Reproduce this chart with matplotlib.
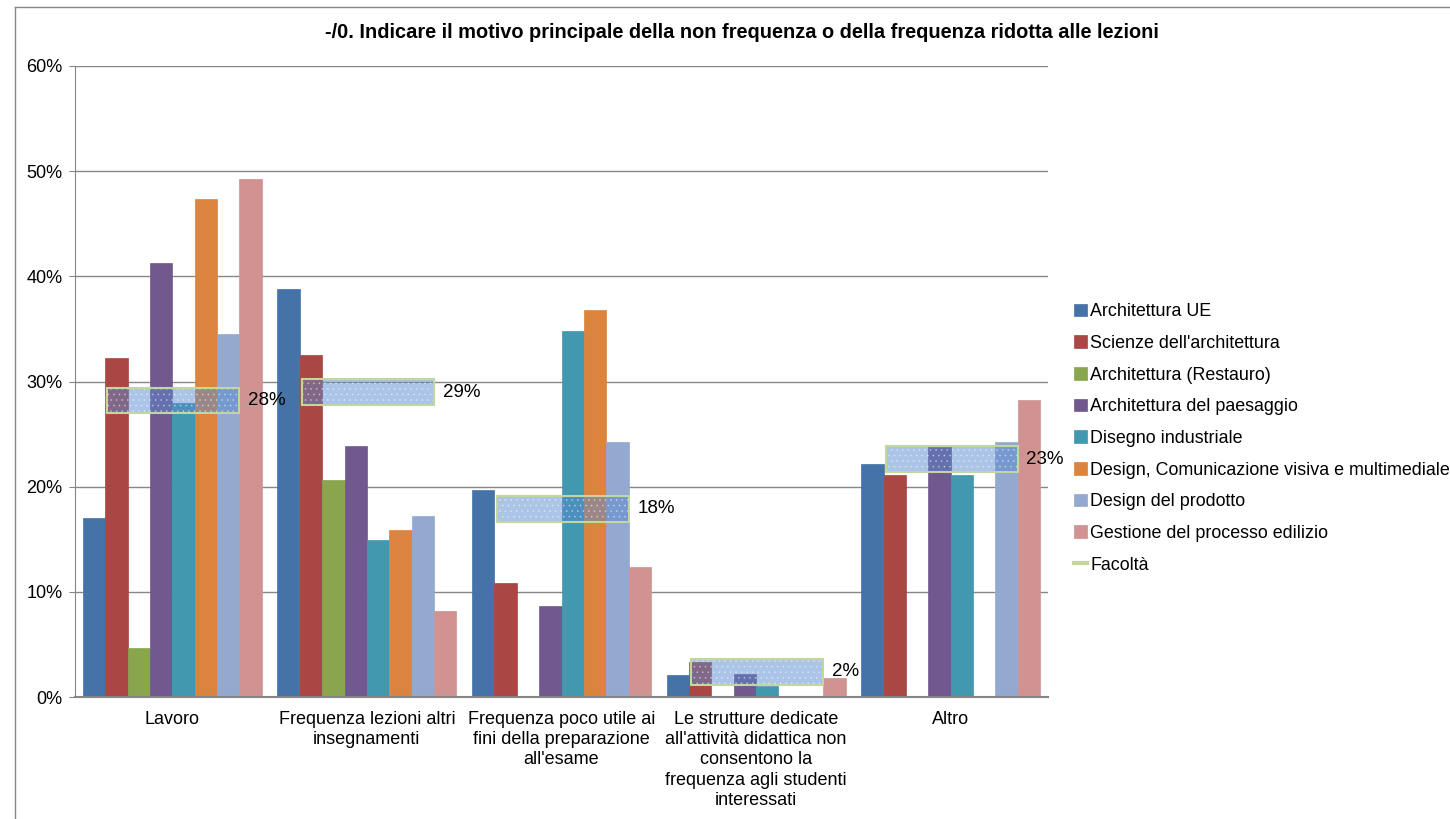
import numpy as np
import matplotlib.pyplot as plt
from matplotlib.patches import Rectangle

plt.rcParams['font.family'] = ['Liberation Sans', 'DejaVu Sans']
plt.rcParams['hatch.linewidth'] = 0.4

# Dati
categorie = [
    "Lavoro",
    "Frequenza lezioni altri\ninsegnamenti",
    "Frequenza poco utile ai\nfini della preparazione\nall'esame",
    "Le strutture dedicate\nall'attività didattica non\nconsentono la\nfrequenza agli studenti\ninteressati",
    "Altro",
]
corsi = [
    "Architettura UE",
    "Scienze dell'architettura",
    "Architettura (Restauro)",
    "Architettura del paesaggio",
    "Disegno industriale",
    "Design, Comunicazione visiva e multimediale",
    "Design del prodotto",
    "Gestione del processo edilizio",
]
colori = ['#4572A7', '#AA4643', '#89A54E', '#71588F',
          '#4198AF', '#DB843D', '#93A9CF', '#D19392']

arch_ue     = [17.0, 38.8, 19.7, 2.1, 22.2]
scienze     = [32.2, 32.5, 10.8, 3.3, 21.1]
restauro    = [4.7, 20.6, 0.0, 0.0, 0.0]
paesaggio   = [41.3, 23.9, 8.7, 2.2, 23.8]
disegno     = [28.0, 14.9, 34.8, 1.0, 21.1]
design_com  = [47.4, 15.9, 36.8, 0.0, 0.0]
prodotto    = [34.5, 17.2, 24.2, 0.0, 24.2]
gestione    = [49.3, 8.2, 12.4, 1.8, 28.2]
facolta     = [28.2, 29.0, 17.9, 2.4, 22.6]

serie = [arch_ue, scienze, restauro, paesaggio, disegno, design_com, prodotto, gestione]

fig = plt.figure(figsize=(14.5, 8.19), dpi=100)
ax = fig.add_axes([75/1450, 1-697/819, (1048-75)/1450, (697-66)/819])

x = np.arange(len(categorie))
w = 0.115
for i, (vals, nome, col) in enumerate(zip(serie, corsi, colori)):
    ax.bar(x + (i - 3.5) * w, vals, w, color=col, edgecolor=col, linewidth=0.5,
           label=nome, zorder=2)

# Facoltà: riquadri semitrasparenti
box_w = 5.9 * w
box_h = 2.45
for xi, v in zip(x, facolta):
    ax.add_patch(Rectangle((xi - box_w/2 + 0.006, v - box_h/2), box_w, box_h,
                           facecolor='#5A8AD0', alpha=0.5, linewidth=0, zorder=3))
    ax.add_patch(Rectangle((xi - box_w/2 + 0.006, v - box_h/2), box_w, box_h,
                           facecolor='none', edgecolor='#FFFFFF', alpha=0.45,
                           hatch='...', linewidth=0, zorder=3))
    ax.add_patch(Rectangle((xi - box_w/2 + 0.006, v - box_h/2), box_w, box_h,
                           facecolor='none', edgecolor='#C3D69B', linewidth=1.5, zorder=4))
    ax.text(xi + box_w/2 + 0.05, v, f"{round(v):d}%", va='center', ha='left',
            fontsize=13.5, zorder=5)

ax.set_xlim(-0.5, len(categorie) - 0.5)
ax.set_ylim(0, 60)
ax.set_yticks(np.arange(0, 61, 10))
ax.set_yticklabels([f"{t}%" for t in range(0, 61, 10)], fontsize=13)
ax.set_xticks(x)
ax.set_xticklabels(categorie, fontsize=13, linespacing=1.25)
ax.tick_params(axis='x', length=0, pad=10)
ax.tick_params(axis='y', length=4, color='#868686', pad=5)
ax.yaxis.grid(True, color='#868686', linewidth=1, zorder=0)
ax.set_axisbelow(True)
for s in ['top', 'right']:
    ax.spines[s].set_visible(False)
for s in ['left', 'bottom']:
    ax.spines[s].set_color('#868686')
ax.spines['bottom'].set_linewidth(1.5)

fig.text(742/1450, 1-33/819,
         "-/0. Indicare il motivo principale della non frequenza o della frequenza ridotta alle lezioni",
         ha='center', va='center', fontsize=14.4, fontweight='bold')

handles, labels = ax.get_legend_handles_labels()
handles.append(plt.Line2D([], [], color='#C3D69B', linewidth=3))
labels.append('Facoltà')
fig.legend(handles, labels, loc='upper left', bbox_to_anchor=(1067/1450, 1-296/819),
           frameon=False, fontsize=12.9, handlelength=0.7, handleheight=0.7,
           handletextpad=0.2, labelspacing=0.82, borderaxespad=0)

# cornice del grafico
fig.add_artist(plt.Line2D([15/1450, 15/1450], [0, 1-7/819], color='#868686', linewidth=1))
fig.add_artist(plt.Line2D([15/1450, 1], [1-7/819, 1-7/819], color='#868686', linewidth=1))

fig.savefig('out.png', dpi=100)
